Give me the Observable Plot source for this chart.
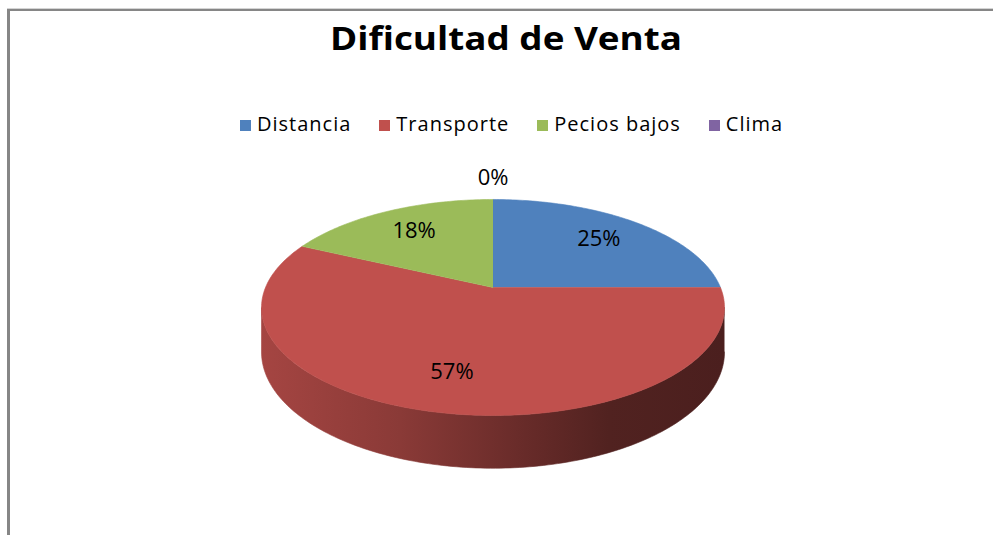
<!DOCTYPE html>
<html><head><meta charset="utf-8">
<script src="https://cdn.jsdelivr.net/npm/d3@7"></script>
<script src="https://cdn.jsdelivr.net/npm/@observablehq/plot@0.6"></script>
<style>
html,body{margin:0;padding:0;background:#fff;}
#wrap{position:relative;width:993px;height:535px;overflow:hidden;background:#fff;}
#chart{position:absolute;left:0;top:0;}
#frame{position:absolute;left:7px;top:9px;right:-10px;bottom:-10px;border-top:2px solid #868686;border-left:3px solid #868686;box-shadow:0 -1px 0 #d4d4d4;pointer-events:none;}
#title{position:absolute;left:330px;top:21.6px;font:700 32px/1 "Open Sans";color:#000;white-space:nowrap;transform-origin:0 0;}
#legend{position:absolute;left:240px;top:109.5px;}
#legend > div{display:flex;flex-wrap:nowrap;min-height:0;margin:0;font-family:"Open Sans";font-size:20px;letter-spacing:1.0px;color:#000;line-height:normal;}
#legend span{display:inline-flex;align-items:center;margin-right:28px;}
#legend svg{margin-right:6px;position:relative;top:2px;}
</style></head>
<body>
<div id="wrap">
  <div id="chart"></div>
  <div id="frame"></div>
  <div id="title"></div>
  <div id="legend"></div>
</div>
<script>
// ---- data ----
const categories = ["Distancia", "Transporte", "Pecios bajos", "Clima"];
const values = [25, 57, 18, 0];
const colors = ["#4F81BD", "#C0504D", "#9BBB59", "#8064A2"];
const titleText = "Dificultad de Venta";

// ---- layout (3D perspective pie) ----
const W = 993, HGT = 535;
const CX = 492.5, CY = 287, SR = 227.5, TR = 104.3, A = 0.185, THICK = 43;
const shade = [[0, 0.86], [0.3, 0.72], [0.55, 0.55], [0.75, 0.42], [1, 0.39]];

function proj(deg, r) {
  const t = deg * Math.PI / 180;
  const X = r * Math.sin(t), Z = r * Math.cos(t);
  const d = 1 + A * Z;
  return {x: CX + SR * X / d, y: CY - TR * Z / d, d};
}

const rows = categories.map((c, i) => ({category: c, value: values[i]}));
const total = d3.sum(values);
const arcs = d3.pie().sort(null).value(d => d.value)(rows);
const toDeg = r => r * 180 / Math.PI;

const topPts = [];
arcs.forEach((a, i) => {
  if (a.value <= 0) return;
  const s = toDeg(a.startAngle), e = toDeg(a.endAngle);
  const n = Math.max(2, Math.ceil(e - s));
  topPts.push({id: i, cat: a.data.category, x: CX, y: CY});
  for (let k = 0; k <= n; k++) {
    const p = proj(s + (e - s) * k / n, 1);
    topPts.push({id: i, cat: a.data.category, x: p.x, y: p.y});
  }
});

const t1 = toDeg(Math.acos(-A)), t2 = 360 - t1;
const sides = [];
arcs.forEach((a, i) => {
  if (a.value <= 0) return;
  const s = toDeg(a.startAngle), e = toDeg(a.endAngle);
  const lo = Math.max(s, t1), hi = Math.min(e, t2);
  if (hi <= lo) return;
  const n = Math.max(2, Math.ceil(hi - lo));
  const top = [], bot = [];
  for (let k = 0; k <= n; k++) {
    const p = proj(lo + (hi - lo) * k / n, 1);
    top.push({x: p.x, y: p.y});
    bot.push({x: p.x, y: p.y + THICK / p.d});
  }
  sides.push({i, pts: top.concat(bot.reverse())});
});

const fmt = d3.format(".0%");
const labels = arcs.map(a => {
  const s = toDeg(a.startAngle), e = toDeg(a.endAngle);
  const mid = a.value > 0 ? (s + e) / 2 : s;
  const p = proj(mid, a.value > 0 ? 0.72 : 1.31);
  return {x: p.x, y: p.y, text: fmt(a.value / total)};
});

const plot = Plot.plot({
  width: W, height: HGT, margin: 0,
  x: {domain: [0, W], range: [0, W], axis: null},
  y: {domain: [0, HGT], range: [0, HGT], axis: null},
  color: {type: "ordinal", domain: categories, range: colors},
  style: {background: "transparent", overflow: "visible"},
  marks: [
    ...sides.map(sd => Plot.line(sd.pts, {x: "x", y: "y", fill: `url(#side-${sd.i})`, stroke: `url(#side-${sd.i})`, strokeWidth: 0.6})),
    Plot.line(topPts, {x: "x", y: "y", z: "id", fill: "cat", stroke: "cat", strokeWidth: 0.6}),
    Plot.text(labels, {x: "x", y: "y", text: "text", fontSize: 22, fontFamily: "Open Sans", fill: "#000", textAnchor: "middle", lineAnchor: "middle"})
  ]
});

const defs = d3.select(plot).insert("defs", ":first-child");
sides.forEach(sd => {
  const base = d3.rgb(colors[sd.i]);
  const g = defs.append("linearGradient").attr("id", `side-${sd.i}`)
    .attr("gradientUnits", "userSpaceOnUse")
    .attr("x1", CX - SR * 1.02).attr("x2", CX + SR * 1.02).attr("y1", 0).attr("y2", 0);
  shade.forEach(([o, k]) => g.append("stop").attr("offset", o)
    .attr("stop-color", d3.rgb(base.r * k, base.g * k, base.b * k).formatHex()));
});
document.getElementById("chart").appendChild(plot);

const legend = plot.legend("color", {swatchSize: 11});
document.getElementById("legend").appendChild(legend);

const title = document.getElementById("title");
title.textContent = titleText;
function fitTitle() {
  title.style.transform = "none";
  const w = title.getBoundingClientRect().width;
  title.style.transform = `scaleX(${352 / w})`;
}
fitTitle();
if (document.fonts && document.fonts.ready) document.fonts.ready.then(fitTitle);
</script>
</body></html>
